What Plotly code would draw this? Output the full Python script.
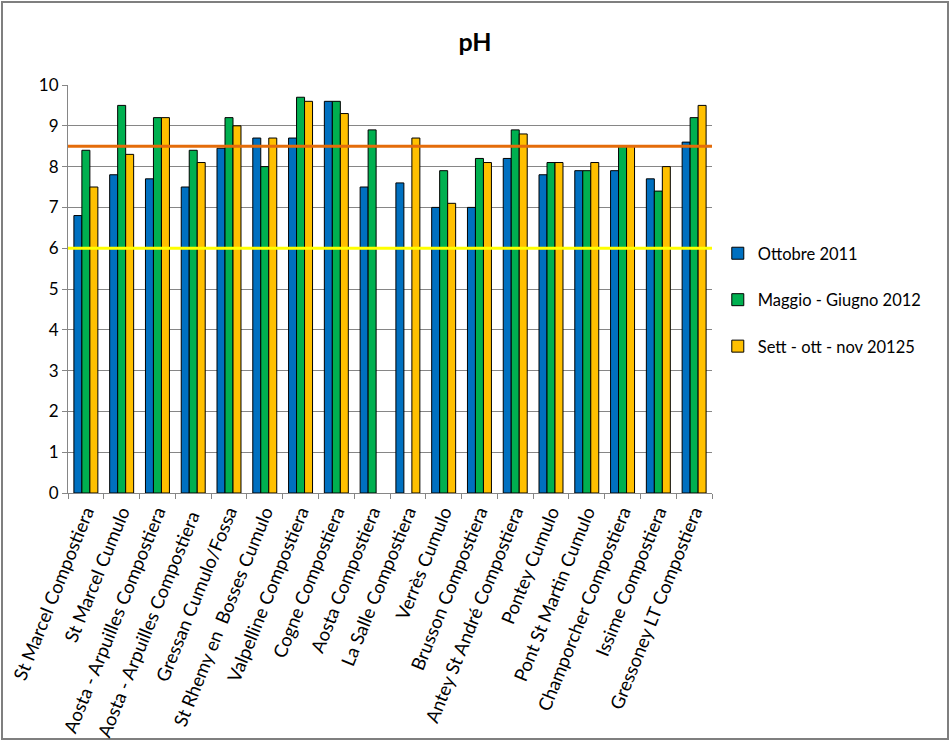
import plotly.graph_objects as go

categories = [
    "St Marcel Compostiera", "St Marcel Cumulo", "Aosta - Arpuilles Compostiera",
    "Aosta - Arpuilles Compostiera ", "Gressan Cumulo/Fossa", "St Rhemy en  Bosses Cumulo",
    "Valpelline Compostiera", "Cogne Compostiera", "Aosta Compostiera", "La Salle Compostiera",
    "Verrès Cumulo", "Brusson Compostiera", "Antey St André Compostiera", "Pontey Cumulo",
    "Pont St Martin Cumulo", "Champorcher Compostiera", "Issime Compostiera",
    "Gressoney LT Compostiera",
]
ottobre_2011 = [6.8, 7.8, 7.7, 7.5, 8.45, 8.7, 8.7, 9.6, 7.5, 7.6, 7.0, 7.0, 8.2, 7.8, 7.9, 7.9, 7.7, 8.6]
maggio_giugno_2012 = [8.4, 9.5, 9.2, 8.4, 9.2, 8.0, 9.7, 9.6, 8.9, None, 7.9, 8.2, 8.9, 8.1, 7.9, 8.5, 7.4, 9.2]
sett_ott_nov_2012 = [7.5, 8.3, 9.2, 8.1, 9.0, 8.7, 9.6, 9.3, None, 8.7, 7.1, 8.1, 8.8, 8.1, 8.1, 8.5, 8.0, 9.5]
series_names = ["Ottobre 2011", "Maggio - Giugno 2012", "Sett - ott - nov 20125"]
series_colors = ["#0070C0", "#00B050", "#FFC000"]
upper_limit = 8.5
lower_limit = 6.0
y_ticks = list(range(0, 11))

font_family = "Lato, 'Open Sans', sans-serif"

fig = go.Figure()
for i, (name, vals, col) in enumerate(zip(series_names,
                                          [ottobre_2011, maggio_giugno_2012, sett_ott_nov_2012],
                                          series_colors)):
    fig.add_trace(go.Bar(
        x=categories, y=vals, name=name, marker_color=col,
        marker_line_color="black", marker_line_width=1,
        legendgroup=f"g{i}",
    ))

fig.add_shape(type="line", xref="paper", yref="y", x0=0, x1=1, y0=upper_limit, y1=upper_limit,
              line=dict(color="#E46C0A", width=3), layer="above")
fig.add_shape(type="line", xref="paper", yref="y", x0=0, x1=1, y0=lower_limit, y1=lower_limit,
              line=dict(color="#FFFF00", width=3), layer="above")

# outer chart border
L, R, T, B = 68, 712, 85, 493
W, H = 951, 742
def px_x(p):
    return (p - L) / (R - L)
def px_y(p):
    return (B - p) / (B - T)
fig.add_shape(type="rect", xref="paper", yref="paper",
              x0=px_x(2), x1=px_x(W - 3), y0=px_y(H - 3), y1=px_y(2),
              line=dict(color="#7F7F7F", width=2), layer="below")

fig.update_layout(
    width=W, height=H,
    margin=dict(l=L, r=W - R, t=T, b=H - B, autoexpand=False),
    paper_bgcolor="white", plot_bgcolor="white",
    barmode="group", bargap=0.33, bargroupgap=0,
    font=dict(family=font_family, color="black", size=16),
    title=dict(text="<b>pH</b>", x=475 / W, xref="container", xanchor="center",
               y=1 - 42 / H, yanchor="middle", font=dict(size=25, family=font_family)),
    legend=dict(x=1.009, y=px_y(300), xanchor="left", yanchor="middle",
                font=dict(size=16.5, family=font_family), tracegroupgap=22,
                itemwidth=30, bgcolor="rgba(0,0,0,0)"),
    showlegend=True,
)
fig.update_xaxes(type="category", tickangle=-68, tickson="boundaries", ticks="outside",
                 ticklen=5, tickcolor="#868686", showline=True, linecolor="#868686",
                 linewidth=1, tickfont=dict(size=18.5, family=font_family), automargin=False)
fig.update_yaxes(range=[0, 10], tickvals=y_ticks, ticks="outside", ticklen=5,
                 tickcolor="#868686", showline=True, linecolor="#868686", linewidth=1,
                 showgrid=True, gridcolor="#868686", gridwidth=1, automargin=False,
                 tickfont=dict(size=17, family=font_family), zeroline=False)

fig.write_html("out.html", config={"displayModeBar": False},
               post_script="document.body.style.margin='0';document.body.style.overflow='hidden';")
